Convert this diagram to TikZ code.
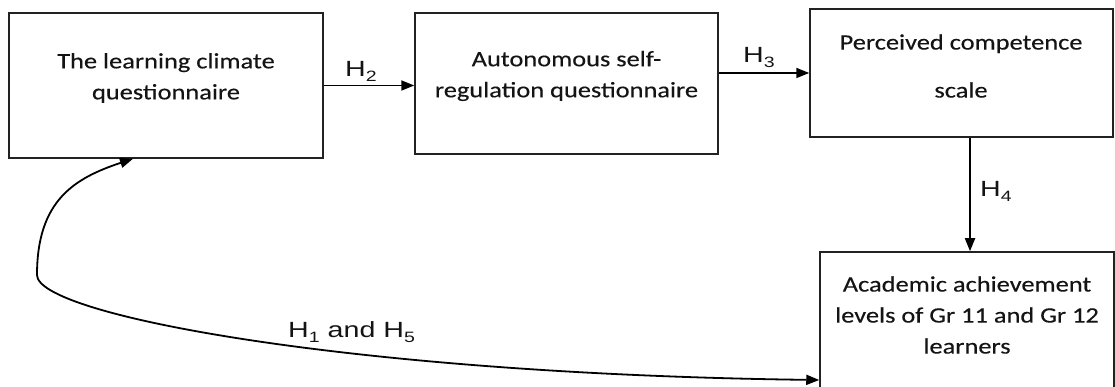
\documentclass[tikz,border=0pt]{standalone}
\usepackage{fontspec}
\setmainfont{Carlito}[FakeStretch=1.2,FakeBold=0.3]
\newfontfamily\labelfont{Liberation Sans}[FakeStretch=1.3]
\usetikzlibrary{arrows.meta}

% lowered index digit for the hypothesis labels
\newcommand{\hyp}[1]{\raisebox{-5pt}{\fontsize{15}{15}\selectfont #1}}

\definecolor{inkline}{HTML}{222222}
\definecolor{inktext}{HTML}{141414}

\begin{document}
\begin{tikzpicture}[x=1pt,y=1pt,
  box/.style={draw=inkline, line width=1.5pt, inner sep=0pt, fill=white},
  boxtext/.style={font=\fontsize{22}{31}\selectfont, align=center, text=inktext, inner sep=0pt},
  hlabel/.style={font=\labelfont\fontsize{22}{22}\selectfont, text=inktext, inner sep=0pt, anchor=base west},
  tip/.style={Triangle[length=13pt,width=10pt]},
  link/.style={draw=black, line width=1.8pt, -{Triangle[length=13pt,width=10pt]}},
  twoway/.style={draw=black, line width=1.8pt, {Triangle[length=13pt,width=10pt]}-{Triangle[length=13pt,width=10pt]}}
]
\useasboundingbox (0,0) rectangle (1115,387);
\clip (0,0) rectangle (1115,387);

% boxes
\node[box, minimum width=314pt, minimum height=145pt] (b1) at (166,301.5) {};
\node[box, minimum width=303pt, minimum height=141pt] (b2) at (566.5,303.5) {};
\node[box, minimum width=303pt, minimum height=128pt] (b3) at (961.5,314) {};
\node[box, minimum width=294pt, minimum height=150pt] (b4) at (967,60) {};

% box texts
\node[boxtext] (t1) at (166,309) {The learning climate\\questionnaire};
\node[boxtext] (t2) at (566.5,311) {Autonomous self-\\regulation questionnaire};
\node[boxtext, font=\fontsize{22}{48}\selectfont] (t3) at (961,321) {Perceived competence\\scale};
\node[boxtext] (t4) at (967,72) {Academic achievement\\levels of Gr 11 and Gr 12\\learners};

% connectors
\draw[link] (b1.east) -- (b1.east -| b2.west);
\draw[link] (b3.west -| b2.east) -- (b3.west);
\draw[link] ([xshift=8.5pt]b3.south) -- ([xshift=8.5pt]b3.south |- b4.north);
\coordinate (turn) at (37,112);
\draw[twoway] ([xshift=-33pt]b1.south) .. controls (75,209) and (37,187) .. (turn)
  .. controls (37,72) and (350,13) .. ([yshift=-53pt]b4.west);

% hypothesis labels
\node[hlabel] (h2) at (345,310) {H\hyp{2}};
\node[hlabel] (h3) at (743,324) {H\hyp{3}};
\node[hlabel] (h4) at (980,190) {H\hyp{4}};
\node[hlabel] (h15) at (288,49) {H\hyp{1}\hspace{8pt}and H\hyp{5}};
\end{tikzpicture}
\end{document}
